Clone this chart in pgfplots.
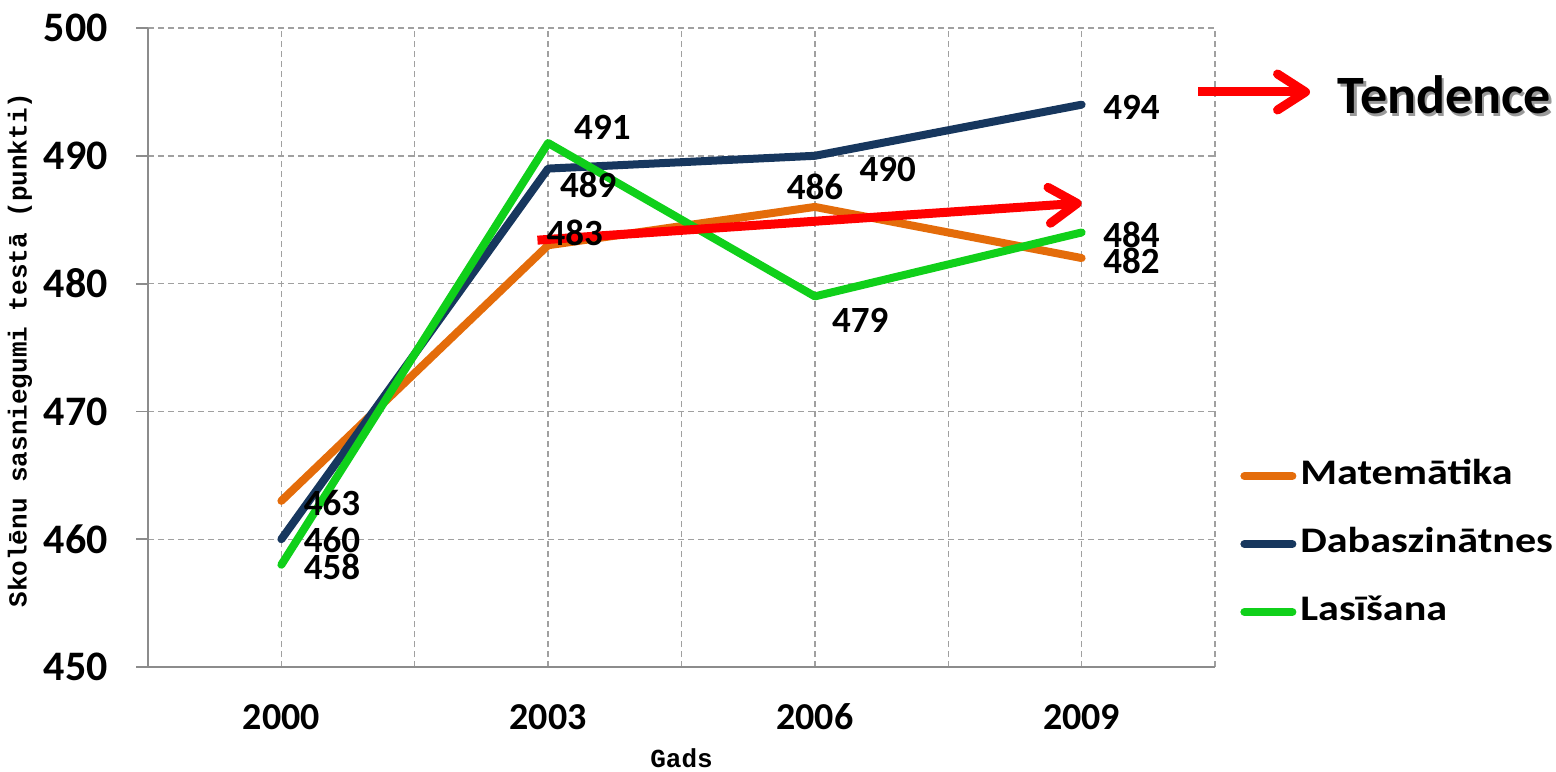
\documentclass[border=0pt]{standalone}
\usepackage{fontspec}
\setmainfont{Carlito}
\newfontfamily\legfont{Carlito}[FakeStretch=1.17]
\newfontfamily\cmono{Liberation Mono}
\usepackage{pgfplots}
\pgfplotsset{compat=1.18}
\usetikzlibrary{arrows.meta}
\definecolor{cmat}{RGB}{228,108,10}
\definecolor{cdab}{RGB}{23,55,94}
\definecolor{clas}{RGB}{16,208,26}
\definecolor{cgrid}{RGB}{160,160,160}
\definecolor{caxis}{RGB}{140,140,140}
\begin{document}
\begin{tikzpicture}
\path[use as bounding box] (-74pt,-52pt) rectangle (704pt,333.5pt);
\begin{axis}[
  at={(0pt,0pt)}, anchor=south west,
  scale only axis, width=533.5pt, height=319.5pt,
  xmin=1998.5, xmax=2010.5, ymin=450, ymax=500,
  axis lines*=left,
  axis line style={caxis, line width=0.9pt},
  xtick={2000,2003,2006,2009},
  xticklabels={2000,2003,2006,2009},
  minor xtick={1998.5,2001.5,2004.5,2007.5,2010.5},
  ytick={450,460,470,480,490,500},
  grid=both,
  major grid style={cgrid, dashed, dash pattern=on 3pt off 2pt, line width=0.7pt},
  minor grid style={cgrid, dashed, dash pattern=on 3pt off 2pt, line width=0.7pt},
  tick align=outside,
  major tick length=6pt,
  x tick style={draw=none},
  y tick style={caxis, line width=0.9pt},
  minor tick length=0pt,
  /pgf/number format/assume math mode=true,
  ticklabel style={font=\bfseries, inner sep=0pt},
  yticklabel style={xshift=-14pt, font=\bfseries\fontsize{21}{24}\selectfont},
  xticklabel style={anchor=base, yshift=-25pt, font=\bfseries\fontsize{19}{22}\selectfont},
  xlabel={Gads}, ylabel={Skolēnu sasniegumi testā (punkti)},
  every axis x label/.style={at={(axis description cs:0.5,-0.142)}, anchor=center, font=\cmono\bfseries\fontsize{13}{15}\selectfont},
  every axis y label/.style={at={(axis description cs:-0.12,0.496)}, rotate=90, anchor=center, font=\cmono\bfseries\fontsize{13}{15}\selectfont},
  legend style={at={(axis description cs:1.0234,0.1925)}, anchor=west, draw=none, fill=none, inner sep=0pt,
    font=\legfont\bfseries\fontsize{18}{21}\selectfont, row sep=19pt, column sep=2pt,
    nodes={text height=12pt, text depth=3pt, inner sep=0pt}},
  legend cell align=left,
  legend image code/.code={\draw[#1, line width=4pt, line cap=round] (0pt,0pt) -- (24pt,0pt);},
  every axis plot/.append style={line width=4pt, line cap=round, line join=round},
  clip=false,
]
\addplot[cmat] coordinates {(2000,463) (2003,483) (2006,486) (2009,482)};
\addlegendentry{Matemātika}
\addplot[cdab] coordinates {(2000,460) (2003,489) (2006,490) (2009,494)};
\addlegendentry{Dabaszinātnes}
\addplot[clas] coordinates {(2000,458) (2003,491) (2006,479) (2009,484)};
\addlegendentry{Lasīšana}
\addplot[red, line width=4.5pt, line cap=butt, -{Straight Barb[length=14pt,width=18pt,round]}, forget plot]
  coordinates {(2002.88,483.4) (2009,486.3)};
\begin{scope}[every node/.style={font=\bfseries\fontsize{18.5}{21}\selectfont, inner sep=0pt}]
\node at (axis cs:2000.57,462.8) {463};
\node at (axis cs:2000.57,459.9) {460};
\node at (axis cs:2000.57,457.8) {458};
\node at (axis cs:2003.61,492.25) {491};
\node at (axis cs:2003.45,487.7) {489};
\node at (axis cs:2003.30,484.0) {483};
\node at (axis cs:2006.0,487.55) {486};
\node at (axis cs:2006.82,488.9) {490};
\node at (axis cs:2006.51,477.15) {479};
\node at (axis cs:2009.56,493.8) {494};
\node at (axis cs:2009.56,483.8) {484};
\node at (axis cs:2009.56,481.8) {482};
\end{scope}
\end{axis}
\draw[red, line width=4.5pt, -{Straight Barb[length=14pt,width=18pt,round]}] (525pt,287.5pt) -- (581pt,287.5pt);
\node[text=black!40, font=\bfseries\fontsize{27}{30}\selectfont, inner sep=0pt] at (649.5pt,284.7pt) {Tendence};
\node[font=\bfseries\fontsize{27}{30}\selectfont, inner sep=0pt] at (648.25pt,286pt) {Tendence};
\end{tikzpicture}
\end{document}
